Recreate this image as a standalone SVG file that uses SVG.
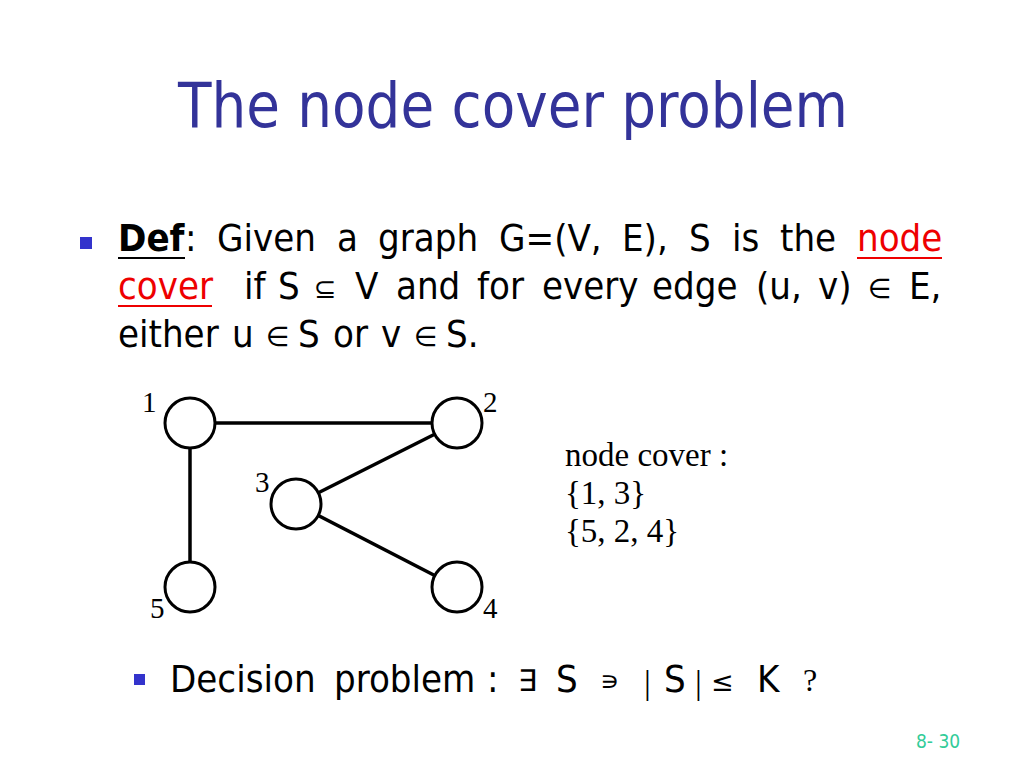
<svg xmlns="http://www.w3.org/2000/svg" width="1024" height="768" viewBox="0 0 1024 768">
<style>
.title{font-family:"DejaVu Sans Condensed","DejaVu Sans","Liberation Sans",sans-serif;font-stretch:condensed;font-size:62px;fill:#333399}
.body{font-family:"DejaVu Sans Condensed","DejaVu Sans","Liberation Sans",sans-serif;font-stretch:condensed;font-size:38px;fill:#000}
.sym{font-family:"DejaVu Sans","Liberation Sans",sans-serif;font-size:27px;fill:#000}
.ser{font-family:"Liberation Serif","Times New Roman",serif;fill:#000}
.red{fill:#ee0000}
.bullet{fill:#3333cc}
.node circle{fill:#fff;stroke:#000;stroke-width:3}
.lbl{font-family:"Liberation Serif","Times New Roman",serif;font-size:29px;fill:#000}
.edge{stroke:#000;stroke-width:3.5}
.foot{font-family:"DejaVu Sans Condensed","DejaVu Sans","Liberation Sans",sans-serif;font-stretch:condensed;font-size:19px;fill:#33cc99}
</style>
<rect width="1024" height="768" fill="#fff"/>
<text class="title" x="513" y="127" text-anchor="middle" textLength="670" lengthAdjust="spacingAndGlyphs">The node cover problem</text>

<rect class="bullet" x="80" y="237" width="12" height="12"/>
<text class="body" y="251"><tspan x="118" font-weight="bold">Def</tspan><tspan x="185">:</tspan><tspan x="217">Given</tspan><tspan x="337">a</tspan><tspan x="378">graph</tspan><tspan x="499">G=(V,</tspan><tspan x="622">E),</tspan><tspan x="689">S</tspan><tspan x="732">is</tspan><tspan x="780">the</tspan><tspan x="857" class="red">node</tspan></text>
<line x1="118" y1="258" x2="185" y2="258" stroke="#000" stroke-width="2"/>
<line x1="857" y1="258" x2="942" y2="258" stroke="#ee0000" stroke-width="2"/>
<text class="body" y="299"><tspan x="118" class="red">cover</tspan><tspan x="244">if</tspan><tspan x="278">S</tspan><tspan x="355">V</tspan><tspan x="396">and</tspan><tspan x="477">for</tspan><tspan x="542">every</tspan><tspan x="652">edge</tspan><tspan x="756">(u,</tspan><tspan x="818">v)</tspan><tspan x="909">E,</tspan></text>
<text class="sym" y="298"><tspan x="314">⊆</tspan><tspan x="868">∈</tspan></text>
<line x1="118" y1="306" x2="212" y2="306" stroke="#ee0000" stroke-width="2"/>
<text class="body" y="347"><tspan x="118">either</tspan><tspan x="232">u</tspan><tspan x="298">S</tspan><tspan x="333">or</tspan><tspan x="381">v</tspan><tspan x="446">S.</tspan></text>
<text class="sym" y="346"><tspan x="266">∈</tspan><tspan x="414">∈</tspan></text>

<g id="connectors">
<line class="edge" x1="190" y1="423" x2="457" y2="423"/>
<line class="edge" x1="190" y1="423" x2="190" y2="587"/>
<line class="edge" x1="457" y1="423" x2="296" y2="504"/>
<line class="edge" x1="296" y1="504" x2="457" y2="587"/>
</g>
<g id="node1" class="node"><circle cx="190" cy="423" r="25"/><text class="lbl" x="142" y="412">1</text></g>
<g id="node2" class="node"><circle cx="457" cy="423" r="25"/><text class="lbl" x="483" y="412">2</text></g>
<g id="node3" class="node"><circle cx="296" cy="504" r="25"/><text class="lbl" x="255" y="492">3</text></g>
<g id="node4" class="node"><circle cx="457" cy="587" r="25"/><text class="lbl" x="483" y="618">4</text></g>
<g id="node5" class="node"><circle cx="190" cy="587" r="25"/><text class="lbl" x="150" y="618">5</text></g>

<g id="cover-list" class="ser" font-size="33">
<text x="565" y="466">node cover :</text>
<text x="565" y="504">{1, 3}</text>
<text x="565" y="542">{5, 2, 4}</text>
</g>

<rect class="bullet" x="134" y="674" width="11" height="11"/>
<text class="body" font-size="40" y="692"><tspan x="170">Decision</tspan><tspan x="334">problem</tspan><tspan x="487">:</tspan></text>
<text class="ser" font-size="30" y="691"><tspan x="518">∃</tspan></text>
<text class="body" font-size="40" y="692"><tspan x="556">S</tspan><tspan x="664">S</tspan><tspan x="757">K</tspan></text>
<text class="sym" font-size="22" y="690"><tspan x="600">∍</tspan></text>
<text class="ser" font-size="34" y="694"><tspan x="644">|</tspan><tspan x="695">|</tspan></text>
<text class="sym" font-size="28" y="691"><tspan x="711">≤</tspan></text>
<text class="ser" font-size="32" y="691"><tspan x="803">?</tspan></text>

<text class="foot" x="916" y="748">8- 30</text>
</svg>
